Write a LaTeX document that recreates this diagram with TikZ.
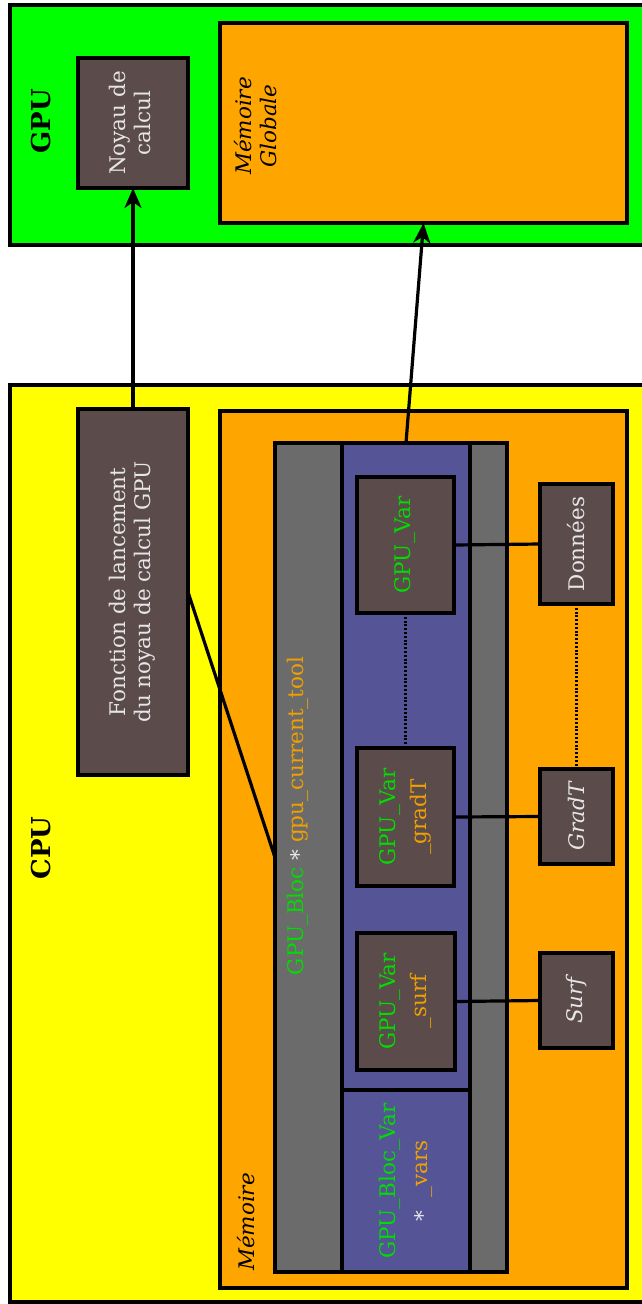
\documentclass[tikz,border=0pt]{standalone}
\usepackage{fontspec}
\setmainfont{DejaVu Serif}
\usetikzlibrary{arrows.meta}
\definecolor{boxc}{HTML}{5B4B4B}
\definecolor{bluec}{HTML}{545497}
\definecolor{greyc}{HTML}{6B6B6B}
\definecolor{orangec}{HTML}{FFA500}
\definecolor{gpuc}{HTML}{00FF00}
\definecolor{cpuc}{HTML}{FFFF00}
\definecolor{txtw}{HTML}{E6E6E6}
\definecolor{txtg}{HTML}{00DD00}
\definecolor{txto}{HTML}{F0A000}
\newcommand{\rt}[1]{\rotatebox{90}{\begin{tabular}{@{}c@{}}#1\end{tabular}}}
\newcommand{\gt}[1]{{\color{txtg}#1}}
\newcommand{\ot}[1]{{\color{txto}#1}}
\newcommand{\wt}[1]{{\color{txtw}#1}}
\begin{document}
\begin{tikzpicture}[x=1pt,y=-1pt,
  font=\fontsize{21.5}{25}\selectfont,
  frame/.style={draw=black, line width=3.2pt, inner sep=0pt, outer sep=0pt},
  dbox/.style={frame, fill=boxc, text=txtw},
  conn/.style={draw=black, line width=3.2pt},
  dotconn/.style={draw=black, line width=3pt, dash pattern=on 2pt off 1.8pt},
  arr/.style={conn, -{Stealth[length=20pt,width=17pt,inset=6pt]}},
  lbl/.style={inner sep=0pt}]
\useasboundingbox (0,0) rectangle (642,1304);
\fill[white] (0,0) rectangle (642,1304);
\clip (0,0) rectangle (642,1304);
% GPU
\node[frame, fill=gpuc, minimum width=650pt, minimum height=240pt] (gpu) at (335,125) {};
\node[lbl] (gpulbl) at (41,121) {\rotatebox{90}{\fontsize{26}{30}\selectfont\bfseries GPU}};
\node[dbox, minimum width=110pt, minimum height=130pt] (noyau) at (133,123) {\rt{Noyau de\\calcul}};
\node[frame, fill=orangec, minimum width=407pt, minimum height=200pt] (memglob) at (423.5,123) {};
\node[lbl] (memgloblbl) at (259,126) {\rt{\itshape Mémoire\\\itshape Globale}};
% CPU
\node[frame, fill=cpuc, minimum width=650pt, minimum height=917pt] (cpu) at (335,843.5) {};
\node[lbl] (cpulbl) at (41,848) {\rotatebox{90}{\fontsize{26}{30}\selectfont\bfseries CPU}};
\node[dbox, minimum width=110pt, minimum height=366pt] (fonction) at (133,592) {\rt{Fonction de lancement\\du noyau de calcul GPU}};
\node[frame, fill=orangec, minimum width=407pt, minimum height=877pt] (mem) at (423.5,849.5) {};
\node[lbl] (memlbl) at (246,1222) {\rotatebox{90}{\itshape Mémoire}};
% GPU_Bloc
\node[frame, fill=greyc, minimum width=232pt, minimum height=829pt] (bloc) at (391,857.5) {};
\node[lbl] (bloclbl) at (298,816) {\rotatebox{90}{\gt{GPU\_Bloc} \wt{\raisebox{-0.3ex}{*}} \ot{gpu\_current\_tool}}};
\node[frame, fill=bluec, minimum width=128pt, minimum height=647pt] (vars) at (406,766.5) {};
\node[frame, fill=bluec, minimum width=128pt, minimum height=182pt] (blocvar) at (406,1181) {\rt{\gt{GPU\_Bloc\_Var}\\[7pt]\wt{\raisebox{-0.3ex}{*}}\hspace{0.6em}\ot{\_vars}}};
\node[dbox, minimum width=97pt, minimum height=136pt] (gpuvar) at (405.5,545) {\rotatebox{90}{\gt{GPU\_Var}}};
\node[dbox, minimum width=97pt, minimum height=138pt] (gradvar) at (405.5,817) {\rt{\gt{GPU\_Var}\\[6pt]\ot{\_gradT}}};
\node[dbox, minimum width=98pt, minimum height=137pt] (surfvar) at (406,1001.5) {\rt{\gt{GPU\_Var}\\[6pt]\ot{\_surf}}};
% data
\node[dbox, minimum width=73pt, minimum height=120pt] (donnees) at (576.5,544) {\rotatebox{90}{Données}};
\node[dbox, minimum width=73pt, minimum height=95pt] (gradT) at (576.5,816.5) {\rotatebox{90}{\itshape GradT}};
\node[dbox, minimum width=73pt, minimum height=95pt] (surf) at (576.5,1000.5) {\rotatebox{90}{\itshape Surf}};
% connectors
\draw[conn] (gpuvar.east) -- (donnees.west);
\draw[conn] (gradvar.east) -- (gradT.west);
\draw[conn] (surfvar.east) -- (surf.west);
\draw[dotconn] (gpuvar.south) -- (gradvar.north);
\draw[dotconn] (donnees.south) -- (gradT.north);
\draw[conn] (fonction.east) -- (bloc.west);
\draw[arr] (fonction.north) -- (noyau.south);
\draw[arr] (vars.north) -- (memglob.south);
\end{tikzpicture}
\end{document}
